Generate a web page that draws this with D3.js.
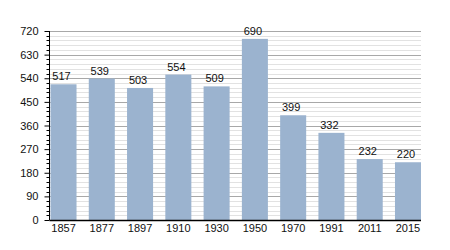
<!DOCTYPE html>
<html><head><meta charset="utf-8">
<script src="https://cdn.jsdelivr.net/npm/d3@7"></script>
<style>body{margin:0;background:#fff;}text{font-family:"Liberation Sans",Arial,sans-serif;}</style>
</head><body>
<svg id="c" width="450" height="250"></svg>
<script>
const years = ["1857","1877","1897","1910","1930","1950","1970","1991","2011","2015"];
const population = [517,539,503,554,509,690,399,332,232,220];
const yMajorTicks = [0,90,180,270,360,450,540,630,720];
const yMinorStep = 18;

const svg = d3.select("#c");
const x0 = 49.5, x1 = 421, yTop = 31, yBot = 220;
const x = d3.scaleBand().domain(years).range([x0+1, x1]).paddingInner(0.32).paddingOuter(0);
const y = d3.scaleLinear().domain([0,720]).range([yBot, yTop]);
const minor = d3.range(0, 721, yMinorStep).filter(v => v % 90 !== 0);

// gridlines
svg.append("g").selectAll("line").data(minor).join("line")
  .attr("x1", x0).attr("x2", x1).attr("y1", d => Math.round(y(d))+0.5).attr("y2", d => Math.round(y(d))+0.5)
  .attr("stroke", "#e2e2e2").attr("stroke-width", 1);
svg.append("g").selectAll("line").data(yMajorTicks.filter(d => d > 0)).join("line")
  .attr("x1", x0).attr("x2", x1).attr("y1", d => Math.round(y(d))+0.5).attr("y2", d => Math.round(y(d))+0.5)
  .attr("stroke", "#a8a8a8").attr("stroke-width", 1);

// bars
svg.append("g").selectAll("rect").data(population).join("rect")
  .attr("x", (d,i) => x(years[i])).attr("width", x.bandwidth())
  .attr("y", d => y(d)).attr("height", d => yBot - y(d))
  .attr("fill", "#9bb3cf");

// value labels
svg.append("g").selectAll("text").data(population).join("text")
  .attr("x", (d,i) => x(years[i]) + x.bandwidth()/2 - 2).attr("y", d => y(d) - 4)
  .attr("text-anchor", "middle").attr("font-size", 11).attr("fill", "#111")
  .text(d => d);

// y axis minor ticks
svg.append("g").selectAll("line").data(minor).join("line")
  .attr("x1", x0-3).attr("x2", x0).attr("y1", d => Math.round(y(d))+0.5).attr("y2", d => Math.round(y(d))+0.5)
  .attr("stroke", "#000");
// y axis
const yAxis = d3.axisLeft(y).tickValues(yMajorTicks).tickSize(5).tickPadding(6).tickFormat(d3.format("d"));
const gy = svg.append("g").attr("transform", `translate(${x0},0)`).call(yAxis);
gy.select(".domain").attr("d", `M0,${yTop}V${yBot}`).attr("stroke", "#000");
gy.selectAll("text").attr("font-size", 11).attr("font-family", "Liberation Sans, Arial, sans-serif").attr("fill", "#111");

// x axis
const xAxis = d3.axisBottom(x).tickSize(0).tickPadding(4);
const gx = svg.append("g").attr("transform", `translate(0,${yBot})`).call(xAxis);
gx.select(".domain").attr("d", `M${x0},0.5H${x1}`).attr("stroke", "#000").attr("stroke-width", 1.5);
gx.selectAll("text").attr("font-size", 11).attr("font-family", "Liberation Sans, Arial, sans-serif").attr("fill", "#111");
</script>
</body></html>
